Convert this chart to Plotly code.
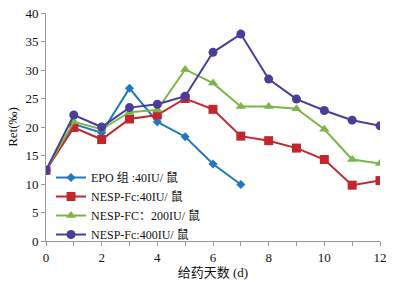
import plotly.graph_objects as go

days = list(range(0, 13))
epo = [12.4, 20.5, 19.0, 26.8, 20.9, 18.3, 13.5, 9.9]
nesp40 = [12.4, 19.9, 17.8, 21.4, 22.1, 25.0, 23.1, 18.4, 17.6, 16.3, 14.3, 9.8, 10.6]
nesp200 = [12.4, 20.9, 19.6, 22.6, 23.0, 30.1, 27.7, 23.6, 23.6, 23.2, 19.6, 14.3, 13.6]
nesp400 = [12.4, 22.1, 20.0, 23.4, 24.0, 25.4, 33.1, 36.3, 28.4, 24.9, 22.9, 21.2, 20.2]

names = ["EPO 组 :40IU/ 鼠", "NESP-Fc:40IU/ 鼠", "NESP-FC：200IU/ 鼠", "NESP-Fc:400IU/ 鼠"]
colors = ["#2278bd", "#c1272d", "#7bb648", "#4a3f98"]
symbols = ["diamond", "square", "triangle-up", "circle"]
sizes = [7, 9, 9, 9]
series = [epo, nesp40, nesp200, nesp400]

FONT = "Liberation Serif, Times New Roman, Noto Sans CJK SC, serif"

fig = go.Figure()
for s, n, c, sym, sz in zip(series, names, colors, symbols, sizes):
    fig.add_trace(go.Scatter(
        x=days[:len(s)], y=s, name=n, mode="lines+markers",
        line=dict(color=c, width=2),
        marker=dict(symbol=sym, size=sz, color=c),
    ))

fig.update_layout(
    width=406, height=290,
    margin=dict(l=46, r=26, t=13, b=49, autoexpand=False),
    paper_bgcolor="white", plot_bgcolor="white",
    font=dict(family=FONT, size=13, color="#111"),
    showlegend=True,
    legend=dict(x=0.015, y=0.342, xanchor="left", yanchor="top",
                bgcolor="rgba(0,0,0,0)", font=dict(size=12, family=FONT),
                tracegroupgap=0, itemwidth=30),
    xaxis=dict(range=[0, 12], tickmode="array", tickvals=[0, 2, 4, 6, 8, 10, 12],
               automargin=False,
               showgrid=False, zeroline=False, showline=True, linecolor="#999", linewidth=1,
               ticks="outside", ticklen=4, tickcolor="#999",
               minor=dict(tickmode="linear", dtick=1, ticks="outside", ticklen=4, tickcolor="#999"),
               title=dict(text="给药天数 (d)", font=dict(size=13), standoff=4)),
    yaxis=dict(range=[0, 40], dtick=5, showgrid=False, zeroline=False, automargin=False,
               showline=True, linecolor="#999", linewidth=1,
               ticks="outside", ticklen=4, tickcolor="#999",
               title=dict(text="Ret(‰)", font=dict(size=13), standoff=4)),
)

# remove the browser's default 8px body margin so the figure sits at the page origin
fig.write_html("out.html", config={"displayModeBar": False},
               post_script="document.body.style.margin='0';")
